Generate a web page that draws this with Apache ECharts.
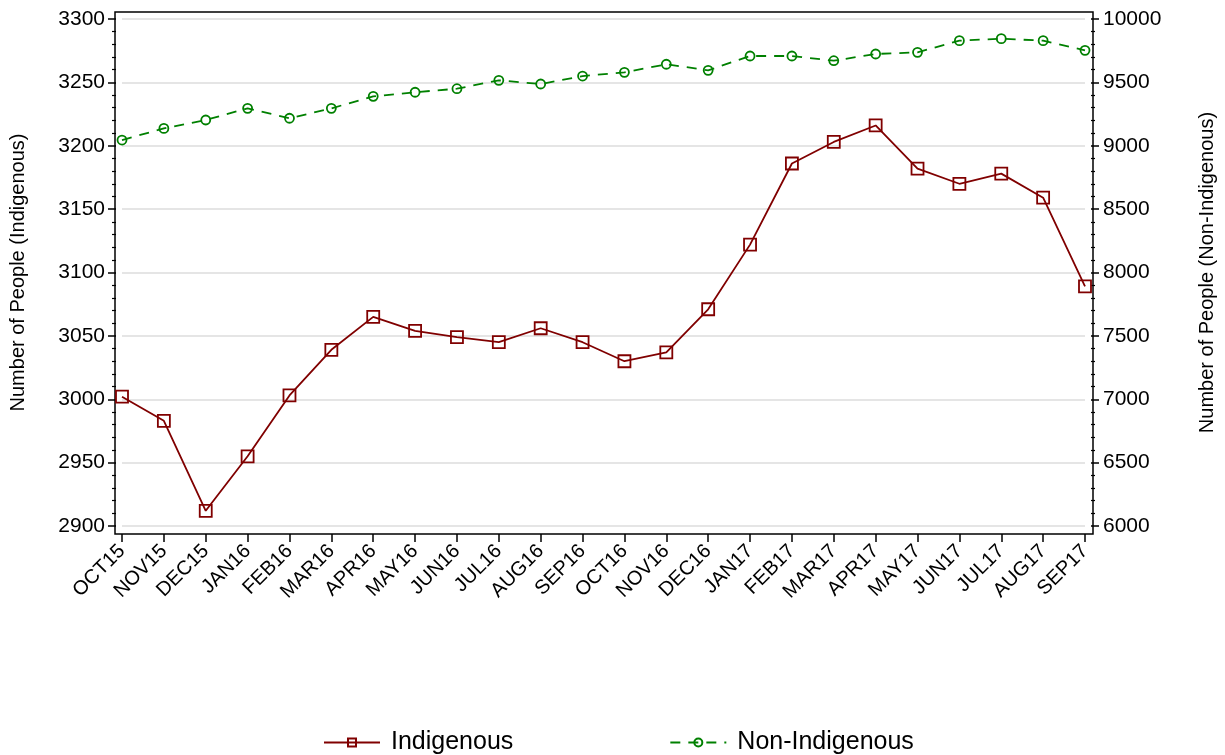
<!DOCTYPE html>
<html>
<head>
<meta charset="utf-8">
<script src="https://cdn.jsdelivr.net/npm/echarts@6/dist/echarts.min.js"></script>
<style>
html,body{margin:0;padding:0;background:#fff;}
#chart{width:1225px;height:755px;}
</style>
</head>
<body>
<div id="chart"></div>
<script>
const months = ['OCT15','NOV15','DEC15','JAN16','FEB16','MAR16','APR16','MAY16','JUN16','JUL16','AUG16','SEP16',
  'OCT16','NOV16','DEC16','JAN17','FEB17','MAR17','APR17','MAY17','JUN17','JUL17','AUG17','SEP17'];
const indigenous = [3002,2983,2912,2955,3003,3039,3065,3054,3049,3045,3056,3045,
  3030,3037,3071,3122,3186,3203,3216,3182,3170,3178,3159,3089];
const nonIndigenous = [9045,9137,9203,9295,9217,9295,9390,9422,9450,9516,9487,9550,
  9579,9643,9595,9708,9708,9671,9724,9737,9829,9845,9829,9753];
const leftTicks = {min:2900, max:3300, interval:50};
const rightTicks = {min:6000, max:10000, interval:500};

const FONT = 'Arial, "Liberation Sans", sans-serif';
const RED = '#800000';
const GREEN = '#008000';
const plain = v => String(v);

const chart = echarts.init(document.getElementById('chart'), null, {renderer:'canvas'});
chart.setOption({
  animation:false,
  backgroundColor:'#fff',
  textStyle:{fontFamily:FONT},
  grid:[
    {left:121, right:138, top:19, bottom:229, show:false},
    {left:115, right:132, top:12, bottom:221, show:true, borderColor:'#000', borderWidth:1.5, backgroundColor:'rgba(0,0,0,0)', z:0}
  ],
  xAxis:[
    {type:'category', gridIndex:0, data:months, boundaryGap:false, offset:8,
     axisLine:{show:false},
     axisTick:{show:true, length:8, alignWithLabel:true, lineStyle:{color:'#000', width:1.5}},
     axisLabel:{rotate:45, fontSize:20, color:'#000', margin:14, fontFamily:FONT, interval:0},
     splitLine:{show:false}},
    {type:'value', gridIndex:1, show:false}
  ],
  yAxis:[
    {type:'value', gridIndex:0, position:'left', offset:6,
     min:leftTicks.min, max:leftTicks.max, interval:leftTicks.interval,
     name:'Number of People (Indigenous)', nameLocation:'middle', nameRotate:90, nameGap:88,
     nameTextStyle:{fontSize:20, color:'#000', fontFamily:FONT},
     axisLine:{show:false},
     axisTick:{show:true, length:8, lineStyle:{color:'#000', width:1.5}},
     minorTick:{show:true, splitNumber:5, length:4, lineStyle:{color:'#000', width:1.2}},
     axisLabel:{fontSize:21, color:'#000', margin:11, fontFamily:FONT, formatter:plain},
     splitLine:{show:true, lineStyle:{color:'#dcdcdc', width:1.5}}},
    {type:'value', gridIndex:0, position:'right', offset:6,
     min:rightTicks.min, max:rightTicks.max, interval:rightTicks.interval,
     name:'Number of People (Non-Indigenous)', nameLocation:'middle', nameRotate:90, nameGap:106,
     nameTextStyle:{fontSize:20, color:'#000', fontFamily:FONT},
     axisLine:{show:false},
     axisTick:{show:true, length:8, lineStyle:{color:'#000', width:1.5}},
     minorTick:{show:true, splitNumber:5, length:4, lineStyle:{color:'#000', width:1.2}},
     axisLabel:{fontSize:21, color:'#000', margin:12, fontFamily:FONT, formatter:plain},
     splitLine:{show:false}},
    {type:'value', gridIndex:1, show:false}
  ],
  legend:{
    left:318, top:725, itemWidth:56, itemHeight:10, itemGap:156,
    textStyle:{fontSize:25, color:'#000', fontFamily:FONT, padding:[0,0,0,6]},
    data:['Indigenous','Non-Indigenous']
  },
  series:[
    {name:'Indigenous', type:'line', xAxisIndex:0, yAxisIndex:0, data:indigenous,
     symbol:'rect', symbolSize:12,
     lineStyle:{color:RED, width:1.8},
     itemStyle:{color:'rgba(0,0,0,0)', borderColor:RED, borderWidth:1.8},
     z:3},
    {name:'Non-Indigenous', type:'line', xAxisIndex:0, yAxisIndex:1, data:nonIndigenous,
     symbol:'circle', symbolSize:9,
     lineStyle:{color:GREEN, width:1.8, type:[10,8]},
     itemStyle:{color:'rgba(0,0,0,0)', borderColor:GREEN, borderWidth:1.8},
     z:3}
  ]
});
</script>
</body>
</html>
